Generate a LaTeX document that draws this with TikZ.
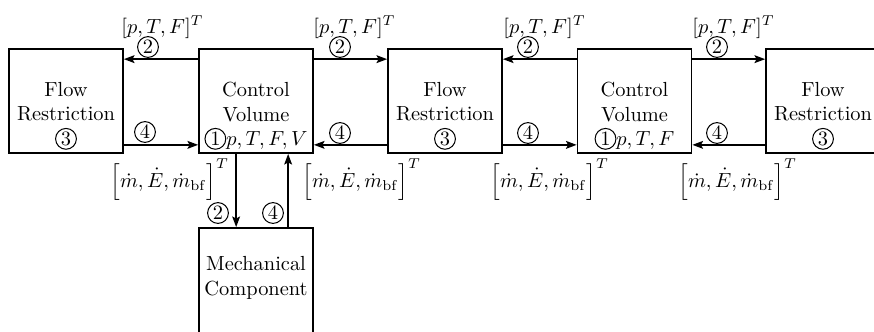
\documentclass[tikz,border=0pt]{standalone}
\usetikzlibrary{arrows.meta,calc}
\newcommand\cnum[1]{\tikz[baseline=(cn.base)]\node[circle,draw,line width=0.5pt,inner sep=0pt,anchor=center,minimum size=10.2pt,outer sep=0pt] (cn) {#1};}
\begin{document}
\begin{tikzpicture}[x=0.49pt,y=-0.49pt,
 blk/.style={draw,line width=0.8pt,minimum width=55.9pt,minimum height=51pt,inner sep=0pt},
 txt/.style={align=center,inner sep=0pt},
 lbl/.style={inner sep=0pt},
 arr/.style={-{Stealth[length=5.2pt,width=3.8pt,inset=1pt]},line width=0.9pt}]
\useasboundingbox (0,0) rectangle (874,331);
\clip (0,0) rectangle (874,331);
\node[blk] (b1) at (66,101) {};
\node[blk] (b2) at (256,101) {};
\node[blk] (b3) at (445,101) {};
\node[blk] (b4) at (634.5,101) {};
\node[blk] (b5) at (823,101) {};
\node[blk,minimum height=53pt] (m) at (256,282) {};
\node[txt] (t1) at (66,116) {Flow\\Restriction\\\cnum{3}};
\node[txt] (t2) at (256,116) {Control\\Volume\\\cnum{1}$p,T,F,V$};
\node[txt] (t3) at (445,116) {Flow\\Restriction\\\cnum{3}};
\node[txt] (t4) at (634.5,116) {Control\\Volume\\\cnum{1}$p,T,F$};
\node[txt] (t5) at (823,116) {Flow\\Restriction\\\cnum{3}};
\node[txt] (tm) at (256,278) {Mechanical\\Component};
% horizontal arrows
\draw[arr] ($(b2.north west)+(0,11)$) -- ($(b1.north east)+(0,11)$);
\draw[arr] ($(b1.south east)+(0,-9)$) -- ($(b2.south west)+(0,-9)$);
\draw[arr] ($(b2.north east)+(0,11)$) -- ($(b3.north west)+(0,11)$);
\draw[arr] ($(b3.south west)+(0,-9)$) -- ($(b2.south east)+(0,-9)$);
\draw[arr] ($(b4.north west)+(0,11)$) -- ($(b3.north east)+(0,11)$);
\draw[arr] ($(b3.south east)+(0,-9)$) -- ($(b4.south west)+(0,-9)$);
\draw[arr] ($(b4.north east)+(0,11)$) -- ($(b5.north west)+(0,11)$);
\draw[arr] ($(b5.south west)+(0,-9)$) -- ($(b4.south east)+(0,-9)$);
% vertical arrows
\draw[arr] ($(b2.south west)+(38,0)$) -- ($(m.north west)+(38,0)$);
\draw[arr] ($(m.north west)+(90,0)$) -- ($(b2.south west)+(90,0)$);
% labels
\node[lbl,anchor=base west] (p1) at (121,33) {$[p,T,F]^T$};
\node[lbl] (c1) at (148,47) {\cnum{2}};
\node[lbl] (d1) at (145,132) {\cnum{4}};
\node[lbl,anchor=base west] (m1) at (110,187) {$\left[\dot m,\dot E,\dot m_{\mathrm{bf}}\right]^T$};
\node[lbl,anchor=base west] (p2) at (313,33) {$[p,T,F]^T$};
\node[lbl] (c2) at (340,47) {\cnum{2}};
\node[lbl] (d2) at (340,133) {\cnum{4}};
\node[lbl,anchor=base west] (m2) at (302,187) {$\left[\dot m,\dot E,\dot m_{\mathrm{bf}}\right]^T$};
\node[lbl,anchor=base west] (p3) at (503,33) {$[p,T,F]^T$};
\node[lbl] (c3) at (528,47) {\cnum{2}};
\node[lbl] (d3) at (528,133) {\cnum{4}};
\node[lbl,anchor=base west] (m3) at (490,187) {$\left[\dot m,\dot E,\dot m_{\mathrm{bf}}\right]^T$};
\node[lbl,anchor=base west] (p4) at (692,33) {$[p,T,F]^T$};
\node[lbl] (c4) at (717,47) {\cnum{2}};
\node[lbl] (d4) at (717,133) {\cnum{4}};
\node[lbl,anchor=base west] (m4) at (678,187) {$\left[\dot m,\dot E,\dot m_{\mathrm{bf}}\right]^T$};
\node[lbl] (c5) at (218,213) {\cnum{2}};
\node[lbl] (d5) at (273,213) {\cnum{4}};
\end{tikzpicture}
\end{document}
